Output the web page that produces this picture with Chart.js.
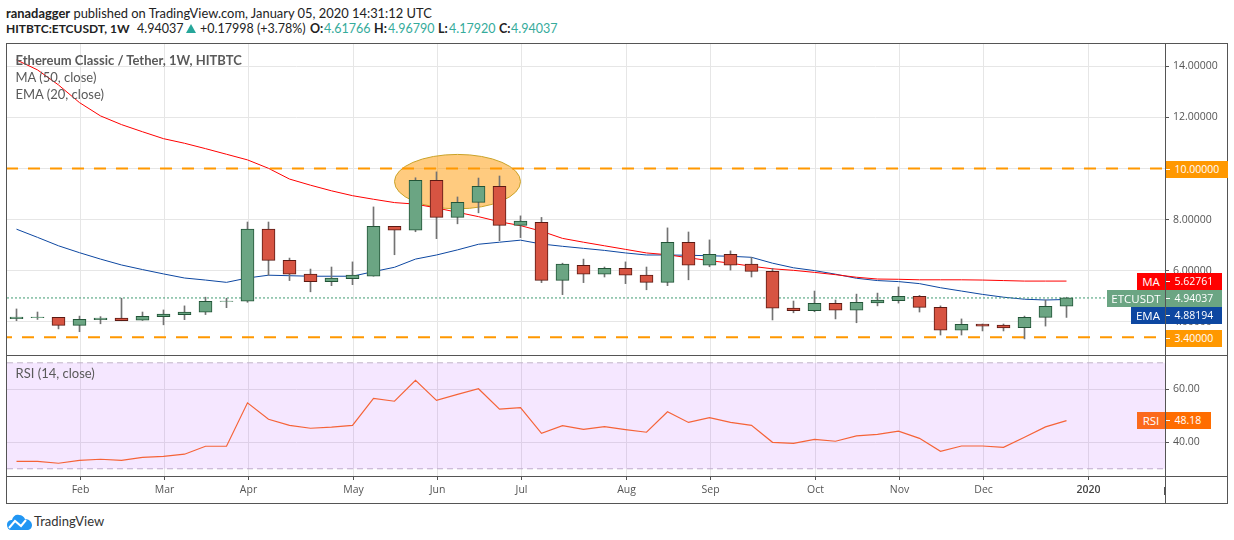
<!DOCTYPE html>
<html>
<head>
<meta charset="utf-8">
<title>ETCUSDT 1W</title>
<script src="https://cdn.jsdelivr.net/npm/chart.js@4"></script>
<style>
  html, body { margin: 0; padding: 0; background: #fff; }
  body { width: 1234px; height: 540px; position: relative; overflow: hidden; font-family: Lato, sans-serif; }
  canvas { position: absolute; left: 7px; }
  #price-canvas { top: 44px; }
  #rsi-canvas { top: 356px; }
  .abs { position: absolute; white-space: nowrap; }
  .head { font-size: 12.9px; line-height: 16px; color: #222; }
  .head.two { top: 21px; font-size: 12.5px; }
  .head b { font-weight: 700; }
  .teal { color: #35ab9b; }
  .tri { position: absolute; left: 186px; top: 24px; width: 0; height: 0; border-left: 5px solid transparent; border-right: 5px solid transparent; border-bottom: 9px solid #26a69a; }
  .legend { left: 15.5px; font-size: 13px; line-height: 16px; color: #5a5a5a; }
  .line { position: absolute; background: #555; }
  .badge { position: absolute; height: 17px; line-height: 17px; color: #fff; font-size: 11.5px; text-align: center; font-family: "Open Sans", sans-serif; }
  .badge.val { left: 1165.5px; padding-left: 9px; text-align: left; box-sizing: border-box; font-size: 10.5px; }
  .badge.val::before { content: ""; position: absolute; left: 0; top: 8px; width: 4px; height: 1px; background: #fff; }
  #clip-feb { left: 1163px; top: 483px; width: 2px; height: 16px; overflow: hidden; font-size: 11px; line-height: 16px; color: #555; }
</style>
</head>
<body>
<div class="abs head" style="left:6px;top:5px">
  <b>ranadagger</b> published on TradingView.com, January 05, 2020 14:31:12 UTC
</div>
<div class="abs head two" style="left:6px;font-size:12px"><b>HITBTC:ETCUSDT, 1W</b></div>
<div class="abs head two" style="left:137px">4.94037</div>
<span class="tri"></span>
<div class="abs head two" style="left:200px">+0.17998 (+3.78%)</div>
<div class="abs head two" style="left:310px"><b>O:</b></div>
<div class="abs head two teal" style="left:324px">4.61766</div>
<div class="abs head two" style="left:374px"><b>H:</b></div>
<div class="abs head two teal" style="left:388px">4.96790</div>
<div class="abs head two" style="left:438px"><b>L:</b></div>
<div class="abs head two teal" style="left:449px">4.17920</div>
<div class="abs head two" style="left:499px"><b>C:</b></div>
<div class="abs head two teal" style="left:511px">4.94037</div>

<canvas id="price-canvas" width="1220" height="311"></canvas>
<canvas id="rsi-canvas" width="1220" height="147"></canvas>

<div class="abs legend" style="top:52px;font-weight:700">Ethereum Classic / Tether, 1W, HITBTC</div>
<div class="abs legend" style="top:69px">MA (50, close)</div>
<div class="abs legend" style="top:86px">EMA (20, close)</div>
<div class="abs legend" style="top:365px">RSI (14, close)</div>

<!-- frame and pane dividers -->
<div class="line" style="left:6px;top:43px;width:1222px;height:1px"></div>
<div class="line" style="left:6px;top:503px;width:1222px;height:1px"></div>
<div class="line" style="left:6px;top:43px;width:1px;height:461px"></div>
<div class="line" style="left:1227px;top:43px;width:1px;height:461px"></div>
<div class="line" style="left:1165px;top:43px;width:1px;height:461px"></div>
<div class="line" style="left:6px;top:355px;width:1222px;height:1px"></div>
<div class="line" style="left:6px;top:476px;width:1222px;height:1px"></div>

<!-- last value tags -->
<div class="badge" style="left:1137px;top:273px;width:28px;background:#ff0000">MA</div>
<div class="badge val" style="top:273px;width:56px;background:#ff0000">5.62761</div>
<div class="badge" style="left:1107px;top:290px;width:58px;background:#6ba583">ETCUSDT</div>
<div class="badge val" style="top:290px;width:56px;background:#6ba583">4.94037</div>
<div class="badge" style="left:1131px;top:307px;width:34px;background:#0d47a1">EMA</div>
<div class="badge val" style="top:307px;width:56px;background:#0d47a1">4.88194</div>
<div class="badge val" style="top:161px;width:62px;background:#ff9800">10.00000</div>
<div class="badge val" style="top:330px;width:56px;background:#ff9800">3.40000</div>
<div class="badge" style="left:1137px;top:412px;width:28px;background:#fb6a1c">RSI</div>
<div class="badge val" style="top:412px;width:45px;background:#ff6d00">48.18</div>
<div class="abs" id="clip-feb">Feb</div>

<svg class="abs" style="left:6px;top:513px" width="27" height="18" viewBox="0 0 27 18">
  <path d="M1 12 C1 8 4 7 6 7 C7 3 10 1 13 2 C16 2 18 4 19 6 C23 6 26 9 26 12 C26 15 24 17 21 17 L5 17 C3 17 1 15 1 12 Z" fill="#2196f3"/>
  <path d="M3 15 L9 8 L15 13 L20 7" fill="none" stroke="#fff" stroke-width="2"/>
</svg>
<div class="abs" style="left:34px;top:512px;font-size:13px;line-height:18px;color:#333">TradingView</div>

<script>
// weekly candles
const opens  = [4.13, 4.17, 4.18, 3.87, 4.09, 4.15, 4.07, 4.21, 4.29, 4.38, 4.80, 4.81, 7.63, 6.41, 5.87, 5.58, 5.69, 5.79, 7.74, 7.59, 9.54, 8.09, 8.68, 9.31, 7.78, 7.90, 5.63, 6.22, 5.87, 6.10, 5.83, 5.55, 7.12, 6.22, 6.65, 6.26, 5.98, 4.54, 4.44, 4.73, 4.46, 4.75, 4.83, 5.00, 4.57, 3.68, 3.92, 3.88, 3.78, 4.18, 4.61766];
const highs  = [4.51, 4.39, 4.18, 4.23, 4.21, 4.93, 4.39, 4.47, 4.63, 4.97, 4.93, 7.91, 7.91, 6.50, 6.07, 6.15, 6.35, 8.50, 7.74, 9.64, 9.87, 8.89, 9.63, 9.71, 8.15, 8.09, 6.30, 6.46, 6.15, 6.35, 6.15, 7.68, 7.52, 7.21, 6.78, 6.53, 6.10, 4.82, 5.21, 4.86, 5.09, 5.13, 5.37, 5.04, 4.63, 4.12, 3.92, 3.92, 4.23, 4.86, 4.9679];
const lows   = [4.05, 4.10, 3.73, 3.62, 3.93, 4.05, 4.06, 3.89, 4.09, 4.29, 4.56, 4.77, 5.83, 5.62, 5.18, 5.42, 5.46, 5.79, 6.63, 7.53, 7.26, 7.84, 8.27, 7.18, 7.30, 5.54, 5.07, 5.54, 5.76, 5.50, 5.26, 5.42, 5.65, 6.16, 6.03, 5.76, 4.08, 4.36, 4.40, 4.12, 3.97, 4.63, 4.74, 4.39, 3.49, 3.49, 3.65, 3.65, 3.34, 3.84, 4.1792];
const closes = [4.19, 4.19, 3.87, 4.10, 4.15, 4.05, 4.22, 4.31, 4.39, 4.81, 4.82, 7.63, 6.41, 5.87, 5.58, 5.72, 5.83, 7.74, 7.59, 9.54, 8.09, 8.68, 9.31, 7.78, 7.95, 5.63, 6.26, 5.87, 6.10, 5.83, 5.55, 7.12, 6.22, 6.65, 6.22, 5.98, 4.54, 4.44, 4.73, 4.46, 4.77, 4.86, 5.00, 4.57, 3.68, 3.91, 3.84, 3.77, 4.18, 4.61, 4.94037];

const ma50  = [14.25, 13.86, 13.27, 12.58, 12.06, 11.72, 11.44, 11.17, 10.99, 10.78, 10.56, 10.34, 10.01, 9.59, 9.35, 9.13, 8.94, 8.80, 8.67, 8.61, 8.46, 8.29, 8.12, 7.92, 7.77, 7.55, 7.27, 7.12, 6.98, 6.84, 6.70, 6.63, 6.51, 6.40, 6.30, 6.18, 6.08, 6.02, 5.94, 5.85, 5.75, 5.68, 5.67, 5.65, 5.65, 5.65, 5.64, 5.62, 5.60, 5.60, 5.60];
const ema20 = [7.63, 7.31, 6.98, 6.71, 6.46, 6.23, 6.05, 5.88, 5.72, 5.64, 5.55, 5.72, 5.83, 5.81, 5.79, 5.79, 5.79, 5.97, 6.14, 6.46, 6.62, 6.82, 7.04, 7.12, 7.20, 7.05, 6.96, 6.88, 6.80, 6.70, 6.62, 6.62, 6.61, 6.59, 6.57, 6.53, 6.30, 6.12, 6.01, 5.87, 5.71, 5.62, 5.58, 5.50, 5.34, 5.21, 5.08, 4.97, 4.89, 4.86, 4.88];
const rsi14 = [32.8, 32.8, 32.1, 33.2, 33.6, 33.2, 34.3, 34.7, 35.5, 38.5, 38.5, 54.9, 48.7, 46.4, 45.3, 45.7, 46.4, 56.6, 55.5, 63.4, 55.8, 58.1, 60.2, 52.5, 53.1, 43.4, 46.3, 44.9, 45.9, 44.8, 43.8, 51.5, 47.5, 49.3, 47.5, 46.4, 40.0, 39.6, 41.1, 40.4, 42.4, 43.0, 44.2, 41.5, 36.6, 38.6, 38.6, 38.1, 41.9, 45.8, 48.18];

const priceTicks = [4, 6, 8, 10, 12, 14];
const rsiTicks   = [40, 60];
const monthWeeks  = [3.05, 7.05, 11.05, 16.05, 20.05, 24.05, 29.05, 33.05, 38.05, 42.05, 46.05, 51.05];
const monthLabels = ['Feb', 'Mar', 'Apr', 'May', 'Jun', 'Jul', 'Aug', 'Sep', 'Oct', 'Nov', 'Dec', '2020'];

const levelHigh = 10;
const levelLow  = 3.4;
const lastPrice = 4.94037;
const rsiUpper  = 70;
const rsiLower  = 30;

// x range in weeks, y ranges in price and RSI points
const xRange     = [-0.45238, 54.69048];
const priceRange = [2.709, 14.872];
const rsiRange   = [27.28, 72.57];

// highlighted area round the June top: centre week, half width in weeks, centre price, half height
const topEllipse = [21, 3, 9.49, 1.064];

const FONT = { family: "'Open Sans', sans-serif", size: 10.5 };
const AXIS_COLOR = '#555';
const GRID_COLOR = '#e6e6e6';

const weeks = closes.map((_, i) => i);
const isUp = i => closes[i] >= opens[i];

function flatLine(label, value, color, width, dash, dashOffset) {
    return {
        type: 'line', label,
        data: xRange.map(x => ({ x, y: value })),
        borderColor: color, borderWidth: width,
        borderDash: dash, borderDashOffset: dashOffset,
        pointRadius: 0, order: 3
    };
}

function curve(label, values, color, width = 1) {
    return {
        type: 'line', label,
        data: values.map((y, i) => ({ x: i, y })),
        borderColor: color, borderWidth: width,
        pointRadius: 0, tension: 0, order: 3
    };
}

function xAxis(showLabels) {
    return {
        type: 'linear', min: xRange[0], max: xRange[1], offset: false,
        afterBuildTicks: s => { s.ticks = monthWeeks.map(value => ({ value })); },
        afterFit: s => { s.height = showLabels ? 27 : 0; s.paddingLeft = 0; s.paddingRight = 0; },
        border: { display: false },
        grid: { offset: false, color: GRID_COLOR, tickColor: AXIS_COLOR, tickLength: 4, drawTicks: showLabels },
        ticks: {
            display: showLabels, autoSkip: false, maxRotation: 0, padding: 4,
            color: ctx => ctx.tick && ctx.tick.value > 50 ? '#444' : AXIS_COLOR,
            font: ctx => ctx.tick && ctx.tick.value > 50 ? { ...FONT, weight: '600' } : FONT,
            callback: v => monthLabels[monthWeeks.indexOf(v)]
        }
    };
}

function yAxis(range, tickValues, decimals) {
    return {
        position: 'right', min: range[0], max: range[1],
        afterBuildTicks: s => { s.ticks = tickValues.map(value => ({ value })); },
        afterFit: s => { s.width = 62; s.paddingTop = 0; s.paddingBottom = 0; },
        border: { display: false },
        grid: { color: GRID_COLOR, tickColor: AXIS_COLOR, tickLength: 4 },
        ticks: { color: AXIS_COLOR, font: FONT, padding: 4, callback: v => v.toFixed(decimals) }
    };
}

const ellipsePlugin = {
    id: 'topEllipse',
    beforeDatasetsDraw(chart) {
        const { ctx, scales: { x, y } } = chart;
        const [wk, halfW, price, halfH] = topEllipse;
        const cx = x.getPixelForValue(wk);
        const cy = y.getPixelForValue(price);
        ctx.save();
        ctx.beginPath();
        ctx.ellipse(cx, cy, x.getPixelForValue(wk + halfW) - cx, cy - y.getPixelForValue(price + halfH), 0, 0, Math.PI * 2);
        ctx.fillStyle = 'rgba(255,152,0,.5)';
        ctx.fill();
        ctx.strokeStyle = '#c9a227';
        ctx.lineWidth = 1;
        ctx.stroke();
        ctx.restore();
    }
};

const baseOptions = {
    responsive: false,
    animation: false,
    devicePixelRatio: 1,
    layout: { padding: 0 },
    plugins: { legend: { display: false }, tooltip: { enabled: false } }
};

new Chart(document.getElementById('price-canvas'), {
    type: 'bar',
    plugins: [ellipsePlugin],
    data: {
        datasets: [
            {
                label: 'Body',
                data: weeks.map(i => ({ x: i, y: [opens[i], closes[i]] })),
                backgroundColor: weeks.map(i => isUp(i) ? '#6ba583' : '#d75442'),
                borderColor: weeks.map(i => isUp(i) ? '#225437' : '#5b1a13'),
                borderWidth: 1, borderSkipped: false,
                barThickness: 13, grouped: false, order: 1
            },
            {
                label: 'Wick',
                data: weeks.map(i => ({ x: i, y: [lows[i], highs[i]] })),
                backgroundColor: '#737373',
                borderWidth: 0,
                barThickness: 1, grouped: false, order: 2
            },
            flatLine('Resistance', levelHigh, '#ff9800', 2, [12, 10], 1),
            flatLine('Support', levelLow, '#ff9800', 2, [12, 10], 7),
            flatLine('Last', lastPrice, '#3f9a72', 1, [2, 2], 0),
            curve('MA 50', ma50, '#ff0000'),
            curve('EMA 20', ema20, '#0d47a1')
        ]
    },
    options: { ...baseOptions, scales: { x: xAxis(false), y: yAxis(priceRange, priceTicks, 5) } }
});

new Chart(document.getElementById('rsi-canvas'), {
    type: 'line',
    data: {
        datasets: [
            {
                ...flatLine('Upper band', rsiUpper, '#c0b4c8', 1, [6, 4], 0),
                fill: { value: rsiLower },
                backgroundColor: 'rgba(153,21,255,.1)'
            },
            flatLine('Lower band', rsiLower, '#c0b4c8', 1, [6, 4], 0),
            curve('RSI', rsi14, '#ff6d22', 1.2)
        ]
    },
    options: { ...baseOptions, scales: { x: xAxis(true), y: yAxis(rsiRange, rsiTicks, 2) } }
});
</script>
</body>
</html>
